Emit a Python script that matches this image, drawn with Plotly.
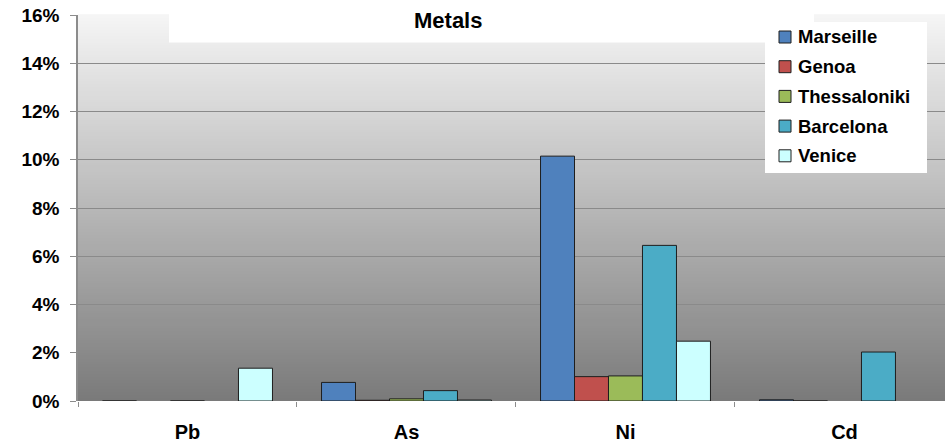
import plotly.graph_objects as go

# ---- data -------------------------------------------------------------
metals = ["Pb", "As", "Ni", "Cd"]
cities = ["Marseille", "Genoa", "Thessaloniki", "Barcelona", "Venice"]

marseille = [0.0, 0.77, 10.15, 0.05]
genoa = [None, 0.03, 1.01, 0.0]
thessaloniki = [0.0, 0.09, 1.04, None]
barcelona = [None, 0.43, 6.45, 2.03]
venice = [1.36, 0.04, 2.48, None]

series = [marseille, genoa, thessaloniki, barcelona, venice]
colors = ["#4f81bd", "#c0504d", "#9bbb59", "#4bacc6", "#ccffff"]

y_ticks = list(range(0, 17, 2))
y_tick_text = [f"{v}%" for v in y_ticks]

# ---- canvas geometry (pixels) -----------------------------------------
W, H = 945, 443
ML, MR, MT, MB = 78, 0, 15, 42
PW, PH = W - ML - MR, H - MT - MB


def px(x):
    return (x - ML) / PW


def py(y):
    return (H - MB - y) / PH


FONT = "Liberation Sans, Arial, sans-serif"

fig = go.Figure()
for name, vals, col in zip(cities, series, colors):
    fig.add_trace(go.Bar(
        x=metals, y=vals, name=name,
        marker=dict(color=col, line=dict(color="#1e1e1e", width=1)),
        showlegend=False,
    ))

shapes = []
# vertical grey gradient behind the plotting area
n = 128
top_c, bot_c = 245, 122
for i in range(n):
    t0, t1 = i / n, (i + 1) / n
    f = (t0 + t1) / 2
    c = round(bot_c + (top_c - bot_c) * f)
    shapes.append(dict(type="rect", xref="paper", yref="paper",
                       x0=0, x1=1, y0=t0, y1=t1 + 0.002,
                       fillcolor=f"rgb({c},{c},{c})", line=dict(width=0),
                       layer="below"))

# white panel behind the title
shapes.append(dict(type="rect", xref="paper", yref="paper",
                   x0=px(169), x1=px(814), y0=py(42.5), y1=py(-2),
                   fillcolor="white", line=dict(width=0), layer="above"))

# legend box
lx0, lx1, ly0, ly1 = 765, 927, 22, 173
shapes.append(dict(type="rect", xref="paper", yref="paper",
                   x0=px(lx0), x1=px(lx1), y0=py(ly1), y1=py(ly0),
                   fillcolor="white", line=dict(width=0), layer="above"))

annotations = []
row_y = [37, 66.7, 96.4, 126.1, 155.8]
for name, col, ry in zip(cities, colors, row_y):
    shapes.append(dict(type="rect", xref="paper", yref="paper",
                       x0=px(779), x1=px(791), y0=py(ry + 6), y1=py(ry - 6),
                       fillcolor=col, line=dict(color="#1e1e1e", width=1),
                       layer="above"))
    annotations.append(dict(xref="paper", yref="paper", x=px(796), y=py(ry),
                            text=name, showarrow=False, xanchor="left",
                            yanchor="middle",
                            font=dict(family=FONT, size=18.5, color="black",
                                      weight="bold")))

annotations.append(dict(xref="paper", yref="paper", x=px(448), y=py(20),
                        text="Metals", showarrow=False, xanchor="center",
                        yanchor="middle",
                        font=dict(family=FONT, size=22, color="black",
                                  weight="bold")))

fig.update_layout(
    width=W, height=H,
    margin=dict(l=ML, r=MR, t=MT, b=MB, pad=0),
    paper_bgcolor="white", plot_bgcolor="rgba(0,0,0,0)",
    barmode="group", bargap=0.224, bargroupgap=0,
    shapes=shapes, annotations=annotations,
    showlegend=False,
    xaxis=dict(
        type="category", range=[-0.5, 3.459],
        tickson="boundaries", ticks="outside", ticklen=5, tickcolor="#8c8c8c",
        showgrid=False, showline=False, zeroline=False,
        ticklabelstandoff=17,
        tickfont=dict(family=FONT, size=20, color="black", weight="bold"),
    ),
    yaxis=dict(
        range=[0, 16], tickvals=y_ticks, ticktext=y_tick_text,
        ticks="outside", ticklen=6, tickcolor="#8c8c8c",
        showgrid=True, gridcolor="#8a8a8a", gridwidth=1,
        showline=True, linecolor="#8c8c8c", linewidth=1.5,
        zeroline=False, ticklabelstandoff=7,
        tickfont=dict(family=FONT, size=19, color="black", weight="bold"),
    ),
)

fig.write_html("out.html")
